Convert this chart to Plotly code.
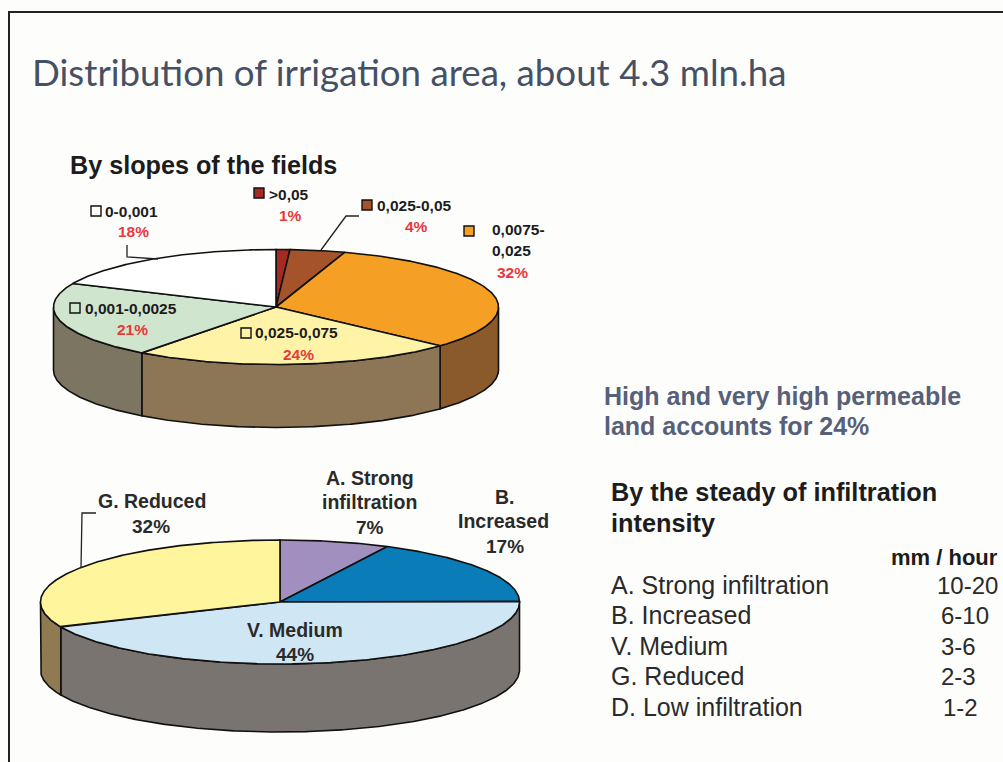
import numpy as np
import plotly.graph_objects as go

# ---------- data ----------
slope_labels = [">0,05", "0,025-0,05", "0,0075-<br>0,025", "0,025-0,075", "0,001-0,0025", "0-0,001"]
slope_values = [1.0, 4.0, 31.8, 23.5, 21.4, 18.3]
infil_labels = ["A. Strong<br>infiltration", "B.<br>Increased", "V. Medium", "G. Reduced"]
infil_values = [7.4, 17.4, 43.6, 31.6]
table_names = ["A. Strong infiltration", "B. Increased", "V. Medium", "G. Reduced", "D. Low infiltration"]
table_rates = ["10-20", "6-10", "3-6", "2-3", "1-2"]

# ---------- styles ----------
slope_top = ["#A52A22", "#A5532A", "#F5A024", "#FFF3A8", "#CFE5CE", "#FFFFFF"]
slope_wall = ["#7a3020", "#7a4020", "#8B5A2B", "#8C7656", "#7B7562", "#777777"]
infil_top = ["#A08FBF", "#0A7DB8", "#CFE6F5", "#FFF59D"]
infil_wall = ["#6f6480", "#0a5a80", "#7A7470", "#8F7A52"]
INK = "#1c1c1c"
RED = "#E8383A"
SLATE = "#566078"
SANS = "Liberation Sans"

fig = go.Figure()


def arc(cx, cy, rx, ry, a, b):
    t = np.radians(np.linspace(a, b, max(int(abs(b - a)) * 2, 2) + 1))
    return cx + rx * np.sin(t), cy - ry * np.cos(t)


def poly(x, y, color):
    fig.add_trace(go.Scatter(x=list(x), y=list(y), mode="lines", fill="toself", fillcolor=color,
                             line=dict(color="#111111", width=1.6), hoverinfo="skip", showlegend=False))


def pie3d(values, tops, walls, cx, cy, rx, ry, depth):
    edges = np.concatenate([[0], np.cumsum(values)]) / np.sum(values) * 360
    for i in range(len(values)):
        a, b = max(edges[i], 90), min(edges[i + 1], 270)
        if a < b:
            x1, y1 = arc(cx, cy, rx, ry, a, b)
            x2, y2 = arc(cx, cy + depth, rx, ry, b, a)
            poly(np.r_[x1, x2, x1[0]], np.r_[y1, y2, y1[0]], walls[i])
    for i in range(len(values)):
        x1, y1 = arc(cx, cy, rx, ry, edges[i], edges[i + 1])
        poly(np.r_[cx, x1, cx], np.r_[cy, y1, cy], tops[i])


pie3d(slope_values, slope_top, slope_wall, 276, 307, 222.5, 57.5, 63)
pie3d(infil_values, infil_top, infil_wall, 280, 602, 239.5, 62, 68)


def leader(x, y):
    fig.add_trace(go.Scatter(x=x, y=y, mode="lines", line=dict(color="#222222", width=1.3),
                             hoverinfo="skip", showlegend=False))


leader([127, 127, 158], [245, 257, 259])
leader([359, 346, 321], [216, 216, 250])
leader([96, 82, 81], [513, 513, 568])

# legend keys
fig.add_trace(go.Scatter(
    x=[259, 367, 469, 246, 75, 96], y=[193, 205, 231, 333, 308, 211], mode="markers",
    marker=dict(symbol="square", size=10, color=slope_top,
                line=dict(color="#111111", width=1.4)),
    hoverinfo="skip", showlegend=False))

fig.update_layout(
    width=1003, height=762, margin=dict(l=0, r=0, t=0, b=0), autosize=False,
    paper_bgcolor="white", plot_bgcolor="#FDFDFC", showlegend=False,
    xaxis=dict(range=[0, 1003], visible=False, fixedrange=True),
    yaxis=dict(range=[762, 0], visible=False, fixedrange=True),
)
fig.add_shape(type="path", path="M 1003 12 L 9 12 L 9 762", line=dict(color="#222222", width=2))


def txt(x, y, s, size, color=INK, bold=False, anchor="left", family=SANS):
    fig.add_annotation(x=x, y=y, xref="x", yref="y", text=f"<b>{s}</b>" if bold else s,
                       showarrow=False, xanchor=anchor, yanchor="middle", align=anchor,
                       font=dict(size=size, color=color, family=family))


pct = lambda v: f"{round(v)}%"

txt(30, 72, "Distribution of irrigation area, about 4.3 mln.ha", 36.7, "#465064", family="Lato")
txt(68, 165, "By slopes of the fields", 25.2, bold=True)

# pie 1 labels
slope_label_pos = [(267, 194), (375, 205), (490, 229), (253, 332), (83, 308), (103, 211)]
slope_pct_pos = [(290, 215), (416, 226), (512, 272), (298, 354), (132, 329), (133, 231)]
for i, lab in enumerate(slope_labels):
    if "<br>" in lab:
        a, b = lab.split("<br>")
        txt(slope_label_pos[i][0], slope_label_pos[i][1], a, 15.5, bold=True)
        txt(slope_label_pos[i][0], slope_label_pos[i][1] + 21, b, 15.5, bold=True)
    else:
        txt(*slope_label_pos[i], lab, 15.5, bold=True)
    txt(*slope_pct_pos[i], pct(slope_values[i]), 15.5, RED, True, "center")

# pie 2 labels
infil_pos = [[(370, 478), (369, 502)], [(505, 497), (503, 521)], [(295, 630)], [(152, 501)]]
infil_pct_pos = [(370, 527), (505, 546), (295, 654), (151, 526)]
for i, lab in enumerate(infil_labels):
    for part, p in zip(lab.split("<br>"), infil_pos[i]):
        txt(*p, part, 19.5, "#2a2a2a", True, "center")
    txt(*infil_pct_pos[i], pct(infil_values[i]), 19, "#2a2a2a", True, "center")

# right-hand side
txt(602, 396, "High and very high permeable", 25, SLATE, True)
txt(602, 426, "land accounts for 24%", 25, SLATE, True)
txt(609, 492, "By the steady of infiltration", 25.3, INK, True)
txt(609, 523, "intensity", 25.3, INK, True)
txt(1000, 557, "mm / hour", 22, INK, True, "right")
row_y = [585, 615, 646, 676, 707]
rate_x = [935, 939, 939, 939, 941]
for n, r, y, x in zip(table_names, table_rates, row_y, rate_x):
    txt(609, y, n, 25, "#2a2a2a")
    txt(x, y, r, 24, "#2a2a2a")

fig.write_html("out.html", config={"displayModeBar": False},
               post_script="document.body.style.margin='0';")
